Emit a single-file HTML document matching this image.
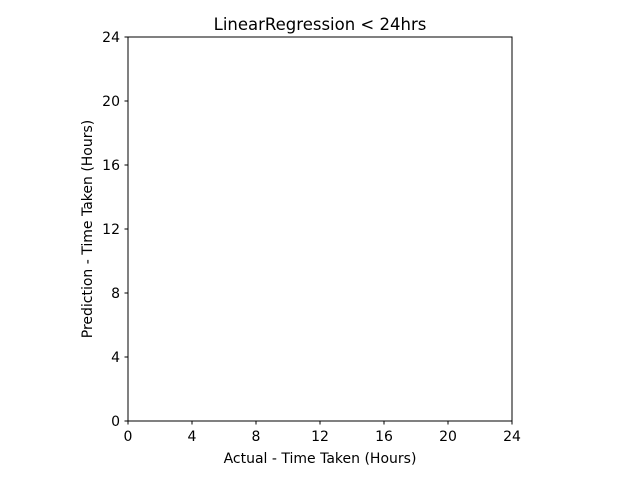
<!DOCTYPE html>
<html><head><meta charset="utf-8"><style>
html,body{margin:0;padding:0;background:#fff;}
svg{display:block;font-family:"DejaVu Sans","Liberation Sans",sans-serif;}
</style></head><body>
<svg id="chart" width="640" height="480">
<text x="320" y="30" text-anchor="middle" font-size="16.5">LinearRegression &lt; 24hrs</text>
<text x="320" y="463" text-anchor="middle" font-size="14">Actual - Time Taken (Hours)</text>
<text x="0" y="0" transform="translate(92,229) rotate(-90)" text-anchor="middle" font-size="14">Prediction - Time Taken (Hours)</text>
<rect x="128" y="37" width="384" height="384" fill="none" stroke="#000" stroke-width="1"/>
<g id="ticks"></g>
</svg>
<script>
const xTicks = [0, 4, 8, 12, 16, 20, 24];
const yTicks = [0, 4, 8, 12, 16, 20, 24];
const seriesX = [];
const seriesY = [];
const xs = v => 128 + (v - 0) / 24 * 384;
const ys = v => 421 - (v - 0) / 24 * 384;
const NS = "http://www.w3.org/2000/svg";
const g = document.getElementById("ticks");
xTicks.forEach(t => {
  const l = document.createElementNS(NS, "line");
  l.setAttribute("x1", xs(t)); l.setAttribute("x2", xs(t));
  l.setAttribute("y1", 421); l.setAttribute("y2", 424.5);
  l.setAttribute("stroke", "#000");
  
  
  g.appendChild(l);
  const tx = document.createElementNS(NS, "text");
  tx.setAttribute("x", xs(t)); tx.setAttribute("y", 441);
  tx.setAttribute("text-anchor", "middle"); tx.setAttribute("font-size", "14");
  tx.textContent = t;
  
  
  g.appendChild(tx);
});
yTicks.forEach(t => {
  const l = document.createElementNS(NS, "line");
  l.setAttribute("x1", 124.5); l.setAttribute("x2", 128);
  l.setAttribute("y1", ys(t)); l.setAttribute("y2", ys(t));
  l.setAttribute("stroke", "#000");
  
  
  g.appendChild(l);
  const tx = document.createElementNS(NS, "text");
  tx.setAttribute("x", 120); tx.setAttribute("y", ys(t) + 5);
  tx.setAttribute("text-anchor", "end"); tx.setAttribute("font-size", "14");
  tx.textContent = t;
  
  
  g.appendChild(tx);
});
seriesX.forEach((v, i) => {
  const c = document.createElementNS(NS, "circle");
  c.setAttribute("cx", xs(v)); c.setAttribute("cy", ys(seriesY[i]));
  c.setAttribute("r", 3); c.setAttribute("fill", "#1f77b4");
  
  
  g.appendChild(c);
});
</script>
</body></html>
